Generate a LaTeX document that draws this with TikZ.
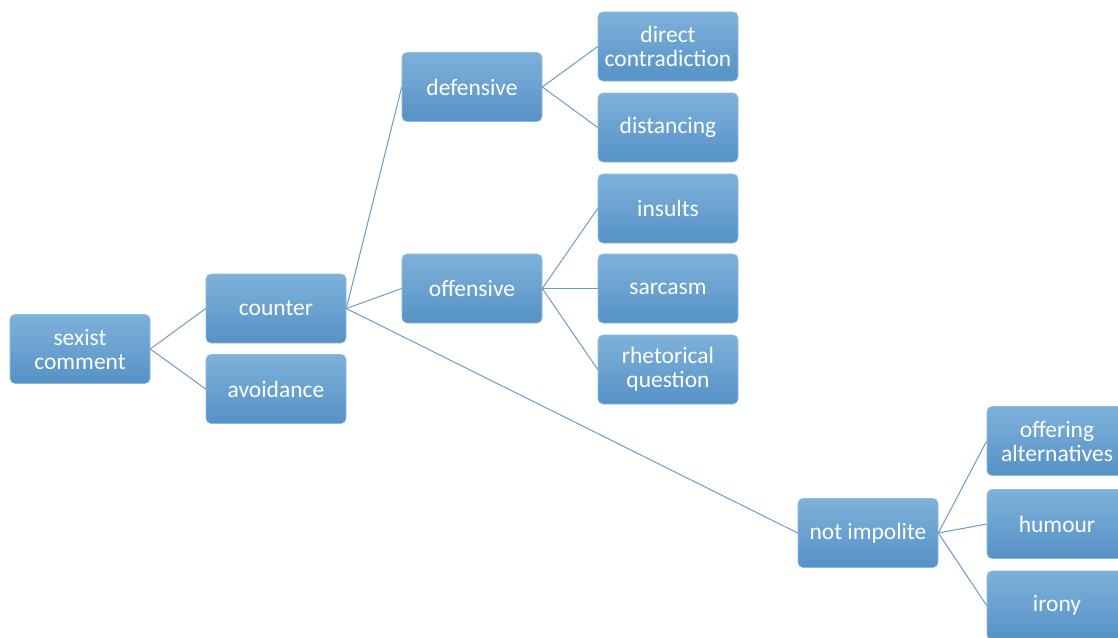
\documentclass[tikz,border=0pt]{standalone}
\usepackage{fontspec}
\setmainfont{Carlito}
\definecolor{boxtop}{HTML}{7DB1DA}
\definecolor{boxbot}{HTML}{5692C6}
\definecolor{boxedge}{HTML}{8DBADF}
\definecolor{linkc}{HTML}{6C9CC8}
\tikzset{
  box/.style={rectangle, rounded corners=5pt, minimum width=140pt, minimum height=69pt,
    top color=boxtop, bottom color=boxbot, draw=boxedge, line width=0.6pt,
    text=white, align=center, inner sep=2pt,
    font=\fontsize{23.5}{24}\selectfont},
  link/.style={draw=linkc, line width=1pt}
}
\begin{document}
\begin{tikzpicture}[x=1pt,y=-1pt]
\useasboundingbox (0,0) rectangle (1118,637);
\clip (0,0) rectangle (1118,637);
\node[box] (sc) at (80,349) {sexist\\comment};
\node[box] (co) at (276,308.5) {counter};
\node[box] (av) at (276,389) {avoidance};
\node[box] (de) at (472,87) {defensive};
\node[box] (of) at (472,288.5) {offensive};
\node[box] (dc) at (668,46.5) {direct\\contradiction};
\node[box] (di) at (668,127.5) {distancing};
\node[box] (in) at (668,208.5) {insults};
\node[box] (sa) at (668,288.5) {sarcasm};
\node[box] (rq) at (668,369.5) {rhetorical\\question};
\node[box] (ni) at (868,533) {not impolite};
\node[box] (oa) at (1057,441) {offering\\alternatives};
\node[box] (hu) at (1057,524) {humour};
\node[box] (ir) at (1057,605.5) {irony};
\draw[link] (sc.east) -- (co.west);
\draw[link] (sc.east) -- (av.west);
\draw[link] (co.east) -- (de.west);
\draw[link] (co.east) -- (of.west);
\draw[link] (co.east) -- (ni.west);
\draw[link] (de.east) -- (dc.west);
\draw[link] (de.east) -- (di.west);
\draw[link] (of.east) -- (in.west);
\draw[link] (of.east) -- (sa.west);
\draw[link] (of.east) -- (rq.west);
\draw[link] (ni.east) -- (oa.west);
\draw[link] (ni.east) -- (hu.west);
\draw[link] (ni.east) -- (ir.west);
\end{tikzpicture}
\end{document}
